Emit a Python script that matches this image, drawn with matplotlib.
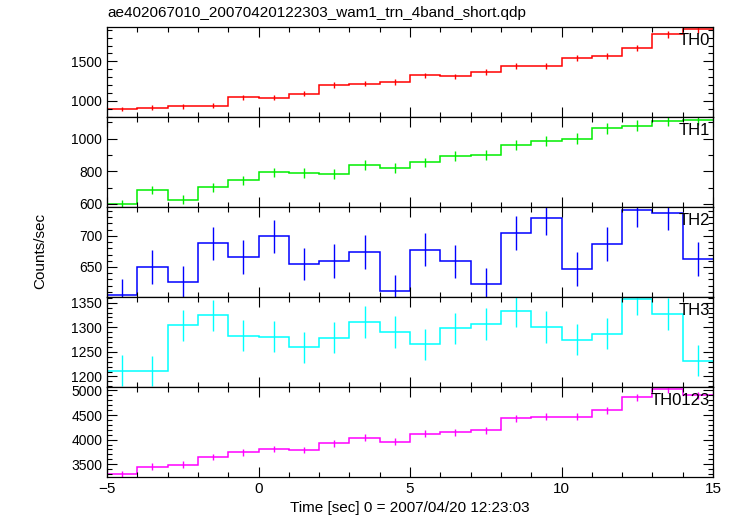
import matplotlib
matplotlib.use("Agg")
import matplotlib.pyplot as plt
from matplotlib.ticker import MultipleLocator
import numpy as np

plt.rcParams['font.family'] = ['Liberation Sans', 'DejaVu Sans']

bin_edges = [-5, -4, -3, -2, -1, 0, 1, 2, 3, 4, 5, 6, 7, 8, 9, 10, 11, 12, 13, 14, 15]

th0 = [899, 915, 932, 941, 1046, 1038, 1092, 1202, 1218, 1240,
       1323, 1310, 1370, 1437, 1441, 1546, 1571, 1669, 1842, 1908]
th0_err = [30, 30, 31, 31, 32, 32, 33, 35, 35, 35,
           36, 36, 37, 38, 38, 39, 40, 41, 43, 44]

th1 = [598, 685, 627, 701, 745, 793, 789, 783, 837, 819,
       854, 892, 898, 958, 986, 1000, 1062, 1078, 1108, 1113]
th1_err = [25, 26, 25, 27, 27, 28, 28, 28, 29, 29,
           29, 30, 30, 31, 31, 32, 32, 33, 33, 33]

th2 = [605, 650, 626, 688, 666, 699, 655, 660, 674, 611,
       678, 659, 622, 705, 729, 647, 687, 742, 737, 663]
th2_err = [26, 27, 26, 27, 27, 27, 26, 27, 27, 26,
           27, 27, 26, 27, 28, 27, 27, 28, 28, 27]

th3 = [1212, 1211, 1304, 1324, 1283, 1281, 1259, 1279, 1311, 1290,
       1265, 1298, 1307, 1333, 1301, 1275, 1287, 1357, 1327, 1232]
th3_err = [31, 31, 32, 32, 32, 32, 31, 32, 32, 32,
           31, 32, 32, 32, 32, 32, 32, 33, 32, 31]

th0123 = [3300, 3453, 3493, 3653, 3740, 3813, 3787, 3927, 4040, 3960,
          4120, 4153, 4193, 4433, 4467, 4467, 4600, 4860, 5020, 4900]
th0123_err = [62, 63, 63, 64, 65, 66, 66, 67, 68, 67,
              68, 69, 69, 70, 71, 71, 72, 74, 75, 74]

names = ["TH0", "TH1", "TH2", "TH3", "TH0123"]
series = [th0, th1, th2, th3, th0123]
errors = [th0_err, th1_err, th2_err, th3_err, th0123_err]
colors = ["#ff0000", "#00ee00", "#0000ff", "#00ffff", "#ff00ff"]
ylims = [(798, 1934), (582, 1132), (602, 746.6), (1179, 1362), (3247, 5075)]
majors = [500, 200, 50, 50, 500]
minors = [100, 100, 10, 10, 100]

fig = plt.figure(figsize=(7.33, 5.16), dpi=100)
left, right = 107 / 733, 713 / 733
top, bottom = 1 - 27 / 516, 1 - 476.7 / 516
h = (top - bottom) / 5

edges = np.array(bin_edges, dtype=float)
centers = (edges[:-1] + edges[1:]) / 2

axes = []
for i in range(5):
    ax = fig.add_axes([left, top - (i + 1) * h, right - left, h])
    axes.append(ax)
    ax.stairs(series[i], edges, color=colors[i], lw=1.1, baseline=None)
    ax.errorbar(centers, series[i], yerr=errors[i], fmt='none',
                ecolor=colors[i], elinewidth=1.0, capsize=0)
    ax.set_xlim(-5, 15)
    ax.set_ylim(*ylims[i])
    ax.xaxis.set_major_locator(MultipleLocator(5))
    ax.xaxis.set_minor_locator(MultipleLocator(1))
    ax.yaxis.set_major_locator(MultipleLocator(majors[i]))
    ax.yaxis.set_minor_locator(MultipleLocator(minors[i]))
    ax.tick_params(which='both', direction='in', top=True, right=True,
                   labelsize=10, width=0.8)
    ax.tick_params(which='major', length=7)
    ax.tick_params(which='minor', length=3.5)
    for s in ax.spines.values():
        s.set_linewidth(0.9)
    if i < 4:
        ax.tick_params(labelbottom=False)
    ax.text(0.995, 0.93, names[i], transform=ax.transAxes, ha='right',
            va='top', fontsize=12)

axes[-1].tick_params(axis='x', labelsize=11)
axes[-1].set_xlabel("Time [sec] 0 = 2007/04/20 12:23:03", fontsize=11, labelpad=4)
axes[0].set_title("ae402067010_20070420122303_wam1_trn_4band_short.qdp",
                  loc='left', fontsize=11, pad=7)
fig.text(40 / 733, 1 - 251 / 516, "Counts/sec", rotation=90, ha='center',
         va='center', fontsize=11)

fig.savefig("out.png", dpi=100)
